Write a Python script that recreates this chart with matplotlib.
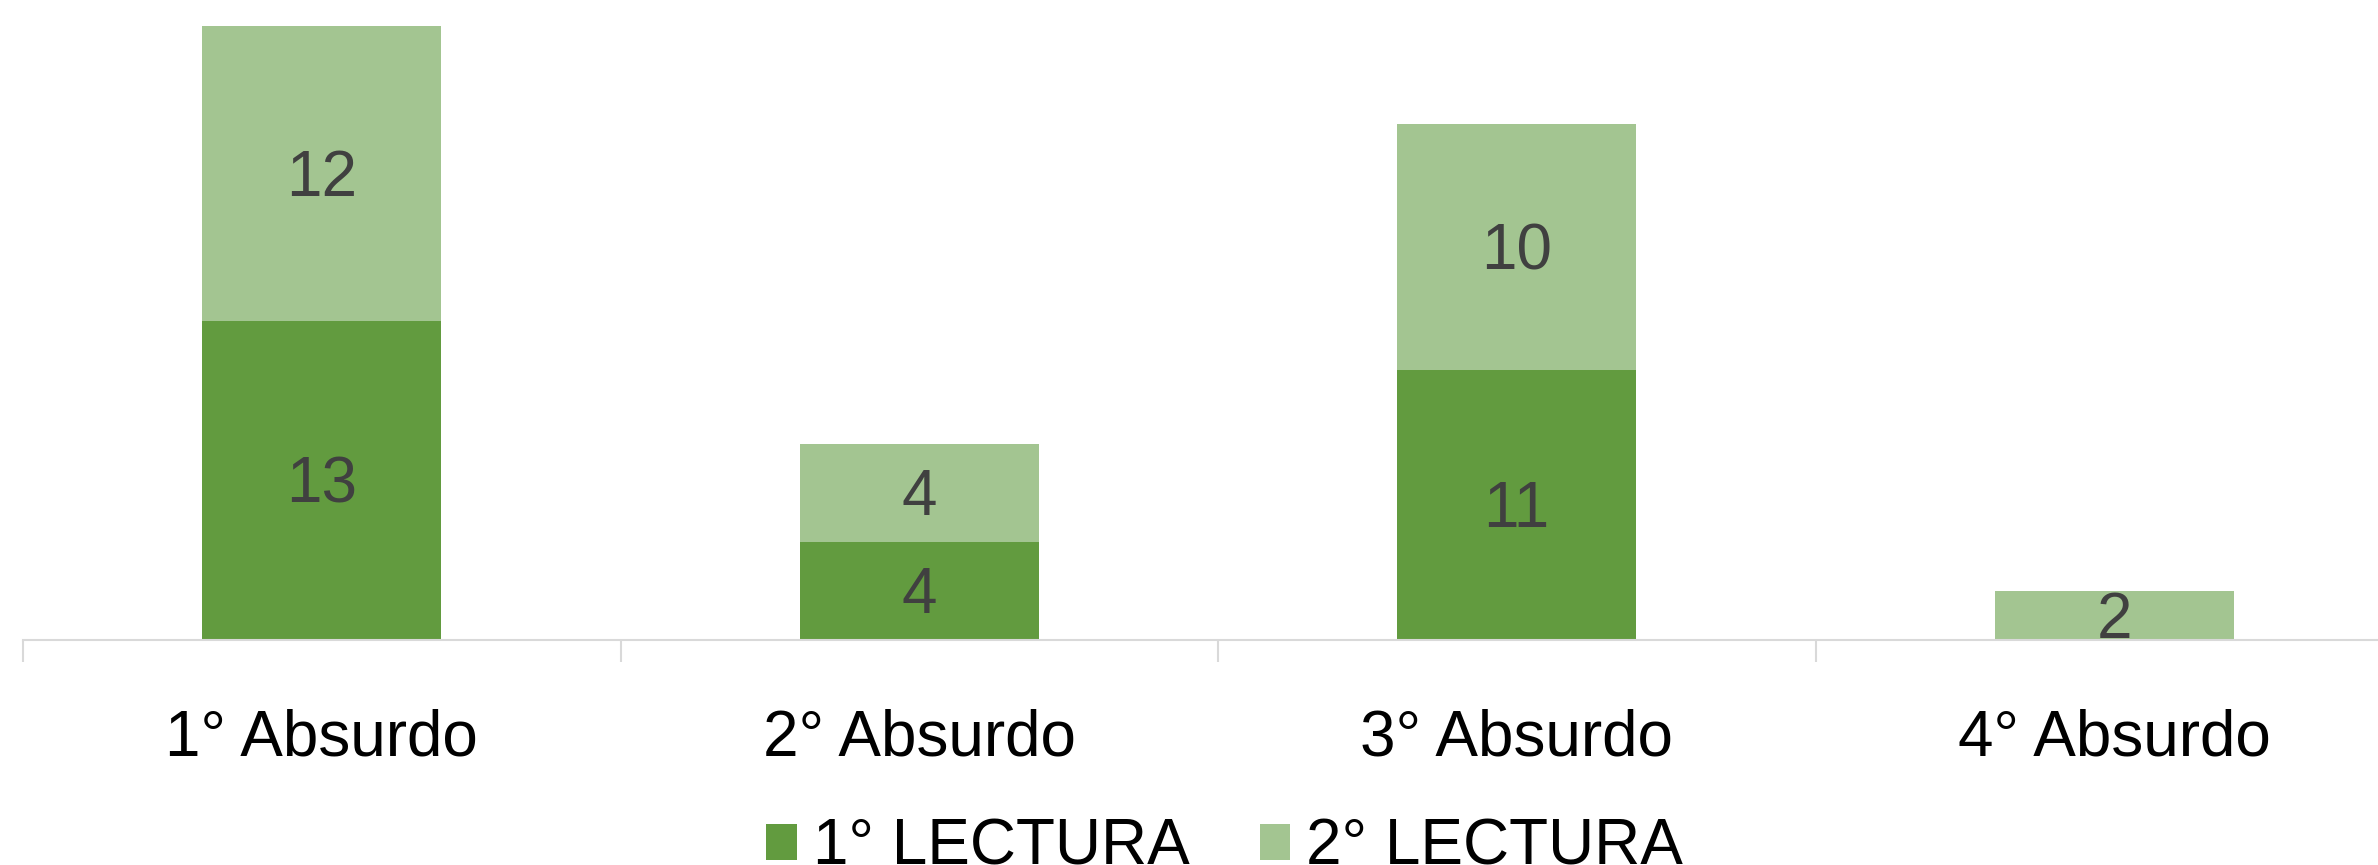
import matplotlib
matplotlib.use("Agg")
import matplotlib.pyplot as plt
import numpy as np

categorias = ["1° Absurdo", "2° Absurdo", "3° Absurdo", "4° Absurdo"]
lectura_1 = [13, 4, 11, 0]
lectura_2 = [12, 4, 10, 2]

verde_osc = "#629B3F"
verde_cla = "#A3C591"
gris = "#D9D9D9"

plt.rcParams["font.family"] = ["Liberation Sans", "DejaVu Sans"]

fig = plt.figure(figsize=(23.78, 8.65), dpi=100)
ax = fig.add_axes([23 / 2378, 1 - 640 / 865, 4 * 597.5 / 2378, 640 / 865])

x = np.arange(len(categorias))
b1 = ax.bar(x, lectura_1, width=0.4, color=verde_osc, label="1° LECTURA")
b2 = ax.bar(x, lectura_2, width=0.4, bottom=lectura_1, color=verde_cla, label="2° LECTURA")

for barras in (b1, b2):
    for r in barras:
        h = r.get_height()
        if h > 0:
            ax.annotate(str(int(h)), (r.get_x() + r.get_width() / 2, r.get_y() + h / 2),
                        xytext=(0, -4), textcoords="offset points",
                        ha="center", va="center", fontsize=46, color="#404040")

ax.set_xlim(-0.5, 3.5)
ax.set_ylim(0, 26.06)
ax.set_xticks(x)
ax.set_xticklabels(categorias, fontsize=46)
ax.set_xticks(np.arange(-0.5, 3.6, 1), minor=True)
ax.tick_params(axis="x", which="major", length=0, pad=49)
ax.tick_params(axis="x", which="minor", length=16, width=1.5, color=gris, direction="out")
ax.set_yticks([])
for lado in ("top", "right", "left"):
    ax.spines[lado].set_visible(False)
ax.spines["bottom"].set_color(gris)
ax.spines["bottom"].set_linewidth(1.5)

fig.legend(handles=[b1, b2], loc="center", bbox_to_anchor=(0.515, 0.02), ncol=2,
           frameon=False, fontsize=46, handlelength=0.48, handleheight=0.48,
           handletextpad=0.25, columnspacing=1.1)

fig.savefig("out.png", dpi=100)
